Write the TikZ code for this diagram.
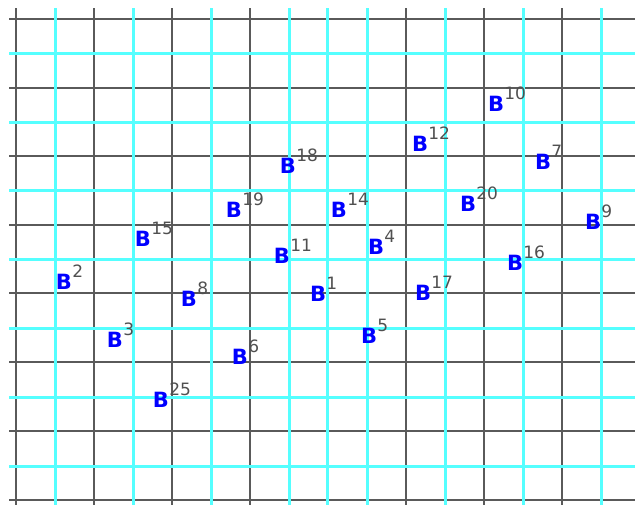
\documentclass[tikz,border=0pt]{standalone}
\usepackage{fontspec}
\setmainfont{DejaVu Sans}
\usetikzlibrary{calc}
\definecolor{gridblack}{HTML}{5A5A5A}
\definecolor{gridcyan}{HTML}{55FFFF}
\definecolor{bblue}{HTML}{0000FF}
\definecolor{supgray}{HTML}{505050}
\tikzset{
  bnode/.style={inner sep=0pt, text=bblue, font=\fontsize{21}{21}\selectfont\bfseries},
  suplab/.style={inner sep=0pt, text=supgray, font=\fontsize{17}{17}\selectfont, anchor=south west, xshift=0pt, yshift=-4pt},
  majorline/.style={draw=gridblack, line width=2.5pt},
  minorline/.style={draw=gridcyan, line width=3pt},
}
\begin{document}
\begin{tikzpicture}[x=1pt,y=-1pt]
\useasboundingbox (0,0) rectangle (635,504);
\begin{scope}
\clip (0,0) rectangle (635,504);
\foreach \x in {16,94,172,250,328,406,484,562} \draw[majorline] (\x,8) -- (\x,510);
\foreach \y in {19,88,156,225,293,362,431,500} \draw[majorline] (9,\y) -- (640,\y);
\foreach \x in {55,133,211,289,327,367,445,523,601} \draw[minorline] (\x,8) -- (\x,510);
\foreach \y in {53,122,190,259,328,397,466} \draw[minorline] (9,\y) -- (640,\y);
\end{scope}
\node[bnode, label={[suplab]north east:10}] (b10) at (496,103.5) {B};
\node[bnode, label={[suplab]north east:12}] (b12) at (420,144) {B};
\node[bnode, label={[suplab]north east:7}] (b7) at (543,162) {B};
\node[bnode, label={[suplab]north east:18}] (b18) at (288,166) {B};
\node[bnode, label={[suplab]north east:20}] (b20) at (468,204) {B};
\node[bnode, label={[suplab]north east:19}] (b19) at (234,210) {B};
\node[bnode, label={[suplab]north east:14}] (b14) at (339,210) {B};
\node[bnode, label={[suplab]north east:9}] (b9) at (593,222) {B};
\node[bnode, label={[suplab]north east:15}] (b15) at (143,239) {B};
\node[bnode, label={[suplab]north east:11}] (b11) at (282,256) {B};
\node[bnode, label={[suplab]north east:4}] (b4) at (376,247) {B};
\node[bnode, label={[suplab]north east:16}] (b16) at (515,263) {B};
\node[bnode, label={[suplab]north east:2}] (b2) at (64,282) {B};
\node[bnode, label={[suplab]north east:8}] (b8) at (189,299) {B};
\node[bnode, label={[suplab]north east:1}] (b1) at (318,294) {B};
\node[bnode, label={[suplab]north east:17}] (b17) at (423,293) {B};
\node[bnode, label={[suplab]north east:3}] (b3) at (115,340) {B};
\node[bnode, label={[suplab]north east:5}] (b5) at (369,336) {B};
\node[bnode, label={[suplab]north east:6}] (b6) at (240,357) {B};
\node[bnode, label={[suplab]north east:25}] (b25) at (161,400) {B};
\end{tikzpicture}
\end{document}
